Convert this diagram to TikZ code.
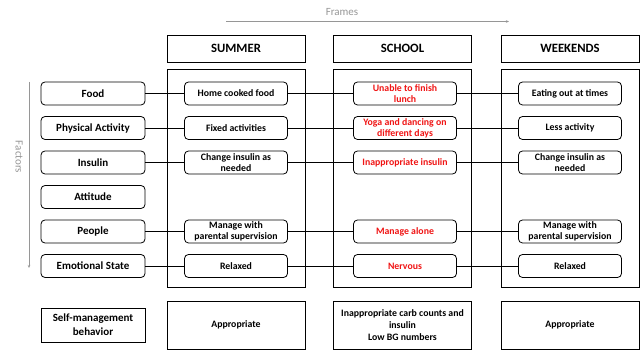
\documentclass[tikz,border=0pt]{standalone}
\usepackage{fontspec}
\setmainfont{Carlito}
\usetikzlibrary{arrows.meta}
\definecolor{axisgray}{RGB}{150,150,150}
\definecolor{alertred}{RGB}{240,20,20}
\begin{document}
\begin{tikzpicture}[x=1pt, y=-1pt,
  factorbox/.style={draw, rounded corners=4pt, line width=0.8pt, minimum width=104pt, minimum height=23pt, font=\bfseries\fontsize{11}{13}\selectfont, align=center, inner sep=1pt},
  cellbox/.style={draw, rounded corners=4pt, line width=0.8pt, minimum width=103pt, minimum height=23pt, font=\bfseries\fontsize{9.8}{10.7}\selectfont, align=center, inner sep=1pt, fill=white},
  headbox/.style={draw, line width=0.8pt, minimum width=138pt, minimum height=27pt, font=\bfseries\fontsize{12.7}{14}\selectfont},
  framebox/.style={draw, line width=0.8pt, minimum width=138pt, minimum height=218pt},
  resultbox/.style={draw, line width=0.8pt, minimum width=138pt, minimum height=48pt, font=\bfseries\fontsize{9.8}{11.7}\selectfont, align=center},
  link/.style={line width=0.8pt},
  axis/.style={axisgray, line width=0.6pt, -{Stealth[length=3pt, width=2.5pt]}},
  bad/.style={text=alertred}]
  \useasboundingbox (0,0) rectangle (641,350);

  % axes
  \coordinate (fstart) at (226,21.5);
  \coordinate (fend) at (509,21.5);
  \draw[axis] (fstart) -- (fend);
  \node[axisgray, font=\fontsize{11}{12}\selectfont] (frameslbl) at (342,12) {Frames};
  \coordinate (astart) at (29,82);
  \coordinate (aend) at (29,268);
  \draw[axis] (astart) -- (aend);
  \node[axisgray, rotate=-90, font=\fontsize{11}{12}\selectfont] (factorslbl) at (19,157) {Factors};

  % headers and frames
  \node[headbox] (sumhead) at (236,48.5) {SUMMER};
  \node[headbox] (schhead) at (402.5,48.5) {SCHOOL};
  \node[headbox] (wkhead) at (570,48.5) {WEEKENDS};
  \node[framebox] (sumframe) at (236,178) {};
  \node[framebox] (schframe) at (402.5,178) {};
  \node[framebox] (wkframe) at (570,178) {};

  % factors
  \node[factorbox] (food) at (93,93.5) {Food};
  \node[factorbox] (phys) at (93,128) {Physical Activity};
  \node[factorbox] (insulin) at (93,162.5) {Insulin};
  \node[factorbox] (attitude) at (93,197) {Attitude};
  \node[factorbox] (people) at (93,231.5) {People};
  \node[factorbox] (emotion) at (93,266) {Emotional State};

  % summer
  \node[cellbox] (sumfood) at (236,93.5) {Home cooked food};
  \node[cellbox] (sumphys) at (236,128) {Fixed activities};
  \node[cellbox] (suminsulin) at (236,162.5) {Change insulin as\\needed};
  \node[cellbox] (sumpeople) at (236,231.5) {Manage with\\parental supervision};
  \node[cellbox] (sumemotion) at (236,266) {Relaxed};

  % school
  \node[cellbox, bad] (schfood) at (405,93.5) {Unable to finish\\lunch};
  \node[cellbox, bad] (schphys) at (405,128) {Yoga and dancing on\\different days};
  \node[cellbox, bad] (schinsulin) at (405,162.5) {Inappropriate insulin};
  \node[cellbox, bad] (schpeople) at (405,231.5) {Manage alone};
  \node[cellbox, bad] (schemotion) at (405,266) {Nervous};

  % weekends
  \node[cellbox] (wkfood) at (570,93.5) {Eating out at times};
  \node[cellbox] (wkphys) at (570,128) {Less activity};
  \node[cellbox] (wkinsulin) at (570,162.5) {Change insulin as\\needed};
  \node[cellbox] (wkpeople) at (570,231.5) {Manage with\\parental supervision};
  \node[cellbox] (wkemotion) at (570,266) {Relaxed};

  % links
  \foreach \f/\s/\c/\w in {food/sumfood/schfood/wkfood, phys/sumphys/schphys/wkphys,
      insulin/suminsulin/schinsulin/wkinsulin, people/sumpeople/schpeople/wkpeople,
      emotion/sumemotion/schemotion/wkemotion} {
    \draw[link] (\f) -- (\s);
    \draw[link] (\s) -- (\c);
    \draw[link] (\c) -- (\w);
  }

  % behaviour
  \node[resultbox, minimum width=104pt, minimum height=34pt, font=\bfseries\fontsize{11}{14}\selectfont] (selfmgmt) at (93,325) {Self-management\\behavior};
  \node[resultbox] (sumresult) at (236,325) {Appropriate};
  \node[resultbox] (schresult) at (402.5,325) {Inappropriate carb counts and\\insulin\\Low BG numbers};
  \node[resultbox] (wkresult) at (570,325) {Appropriate};
\end{tikzpicture}
\end{document}
